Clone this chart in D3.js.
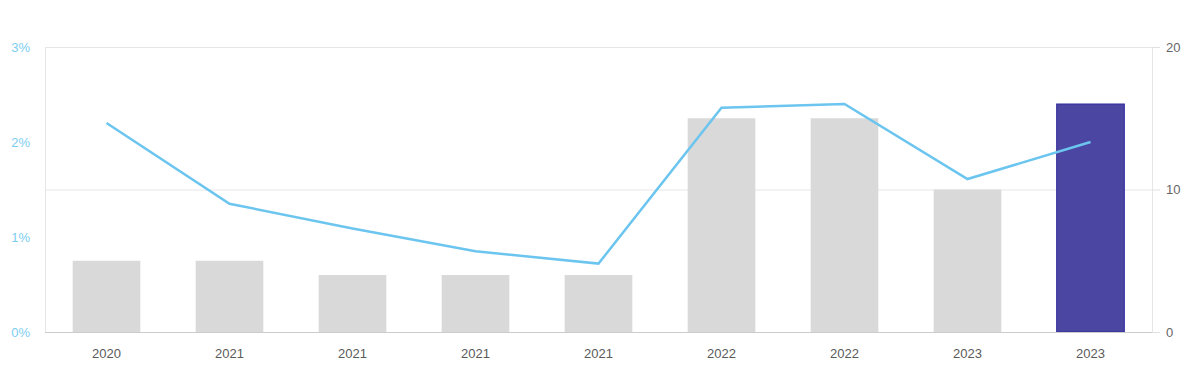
<!DOCTYPE html>
<html><head><meta charset="utf-8">
<script src="https://cdn.jsdelivr.net/npm/d3@7"></script>
<style>html,body{margin:0;padding:0;background:#fff;}svg{display:block;font-family:"Liberation Sans",Arial,Helvetica,sans-serif;}</style>
</head><body>
<svg id="chart" width="1200" height="382"></svg>
<script>
const categories = ["2020","2021","2021","2021","2021","2022","2022","2023","2023"];
const barValues = [5, 5, 4, 4, 4, 15, 15, 10, 16];
const lineValues = [2.2, 1.35, 1.09, 0.85, 0.72, 2.36, 2.40, 1.61, 2.0];
const leftTicks = [0, 1, 2, 3];
const rightTicks = [0, 10, 20];
const highlightIndex = 8;

const svg = d3.select("#chart");
const m = {left:45, right:48, top:47, bottom:50};
const W = 1200, H = 382;
const x = d3.scaleBand().domain(d3.range(categories.length)).range([m.left, W - m.right]).paddingInner(0.45).paddingOuter(0.225);
const yR = d3.scaleLinear().domain([0, 20]).range([H - m.bottom, m.top]);
const yL = d3.scaleLinear().domain([0, 3]).range([H - m.bottom, m.top]);

// gridlines from right axis
svg.append("g").selectAll("line").data(rightTicks.filter(d=>d>0)).join("line")
  .attr("x1", m.left).attr("x2", W - m.right)
  .attr("y1", d=>yR(d)+0.5).attr("y2", d=>yR(d)+0.5)
  .attr("stroke", "#e6e6e6").attr("stroke-width", 1);
// side borders
[m.left, W - m.right].forEach(xx => {
  svg.append("line").attr("x1", xx+0.5).attr("x2", xx+0.5).attr("y1", m.top).attr("y2", H - m.bottom)
    .attr("stroke", "#e6e6e6");
});

// bars
svg.append("g").selectAll("rect").data(barValues).join("rect")
  .attr("x", (d,i)=>x(i)).attr("width", x.bandwidth())
  .attr("y", d=>yR(d)).attr("height", d=>yR(0)-yR(d))
  .attr("fill", (d,i)=> i===highlightIndex ? "#4c46a3" : "#d9d9d9")
  .attr("stroke", (d,i)=> i===highlightIndex ? "#2f2a9c" : "none")
  .attr("stroke-width", 1);

// line
const line = d3.line().x((d,i)=>x(i)+x.bandwidth()/2).y(d=>yL(d));
svg.append("path").datum(lineValues).attr("d", line)
  .attr("fill", "none").attr("stroke", "#6cc5ef").attr("stroke-width", 2.5)
  .attr("stroke-linejoin", "miter");

// bottom axis line
svg.append("line").attr("x1", m.left).attr("x2", W - m.right)
  .attr("y1", yR(0)+0.5).attr("y2", yR(0)+0.5).attr("stroke", "#cccccc");

// x axis
const xa = svg.append("g").attr("transform", `translate(0,${H - m.bottom})`)
  .call(d3.axisBottom(x).tickFormat(i=>categories[i]).tickSize(0).tickPadding(17));
xa.select(".domain").remove();
xa.selectAll("text").attr("fill", "#5a5a5a").attr("font-size", 13).attr("font-family", "Liberation Sans, Arial, sans-serif");

// left axis
const la = svg.append("g").attr("transform", `translate(${m.left},0)`)
  .call(d3.axisLeft(yL).tickValues(leftTicks).tickFormat(d=>d+"%").tickSize(0).tickPadding(15));
la.select(".domain").remove();
la.selectAll("text").attr("fill", "#7ccdf0").attr("font-size", 13).attr("font-family", "Liberation Sans, Arial, sans-serif");

// right axis
const ra = svg.append("g").attr("transform", `translate(${W - m.right},0)`)
  .call(d3.axisRight(yR).tickValues(rightTicks).tickSize(8).tickPadding(6));
ra.select(".domain").remove();
ra.selectAll("line").attr("stroke", "#e0e0e0");
ra.selectAll("text").attr("fill", "#666").attr("font-size", 13).attr("font-family", "Liberation Sans, Arial, sans-serif");
</script>
</body></html>
